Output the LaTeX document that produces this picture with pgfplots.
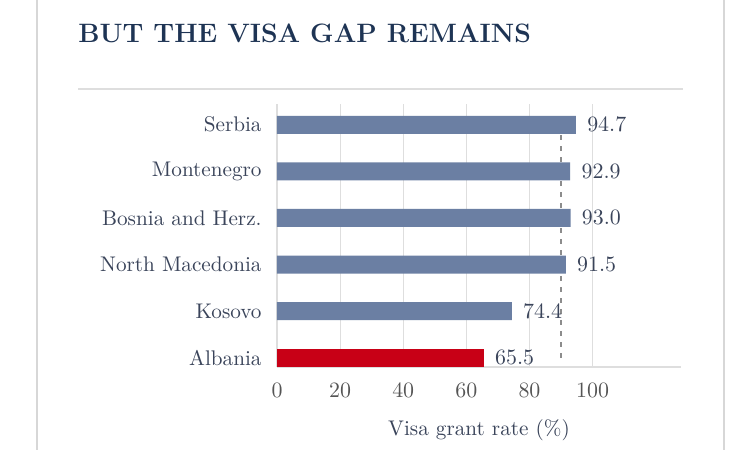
\documentclass[border=0pt]{standalone}
\usepackage{pgfplots}
\pgfplotsset{compat=1.18}
\definecolor{barblue}{RGB}{107,127,163}
\definecolor{barred}{RGB}{200,0,22}
\definecolor{titlecol}{RGB}{30,52,84}
\definecolor{labcol}{RGB}{58,68,90}
\definecolor{tickcol}{RGB}{85,85,85}
\definecolor{gridcol}{RGB}{222,222,222}
\definecolor{framecol}{RGB}{215,215,215}
\begin{document}
\begin{tikzpicture}
\path[use as bounding box] (0,0) rectangle (376pt,225pt);
% slide edges
\draw[framecol, line width=0.8pt] (18.5pt,0) -- (18.5pt,225pt);
\draw[framecol, line width=0.8pt] (362pt,0) -- (362pt,225pt);
% title and rule
\node[anchor=base west, inner sep=0pt, text=titlecol, font=\fontsize{13.3}{15}\selectfont\bfseries] at (39pt,203.5pt) {BUT THE VISA GAP REMAINS};
\draw[gridcol, line width=0.8pt] (39pt,180.5pt) -- (341.5pt,180.5pt);
\begin{axis}[
  at={(138.5pt,41.5pt)}, anchor=south west,
  scale only axis, width=202pt, height=131.6pt,
  xmin=0, xmax=128, ymin=-0.2, ymax=5.45,
  axis x line=bottom, axis y line=left,
  axis line style={draw=gridcol, line width=0.8pt, -},
  xtick={0,20,40,60,80,100},
  ytick={0,1,2,3,4,5},
  yticklabels={Albania, Kosovo, North Macedonia, Bosnia and Herz., Montenegro, Serbia},
  major tick length=0pt,
  xmajorgrids, grid style={gridcol, line width=0.6pt},
  tick label style={font=\fontsize{10.6}{12}\selectfont},
  xticklabel style={text=tickcol, anchor=north, inner sep=0pt, yshift=-8pt},
  yticklabel style={text=labcol, anchor=east, inner sep=0pt, xshift=-7.5pt},
  xlabel={Visa grant rate (\%)},
  xlabel style={at={(axis description cs:0.5,0)}, anchor=base, inner sep=0pt, yshift=-34.5pt, text=labcol, font=\fontsize{10.6}{12}\selectfont},
  barval/.style={xbar, bar width=9pt, bar shift=0pt, draw=none,
    nodes near coords,
    nodes near coords style={anchor=west, inner sep=0pt, xshift=5.5pt, text=labcol, font=\fontsize{10.8}{12}\selectfont, /pgf/number format/.cd, fixed, fixed zerofill, precision=1}},
  dashref/.style={sharp plot, mark=none, draw=black!45, line width=0.6pt, dash pattern=on 2.5pt off 3pt},
  clip=false,
]
\addplot[dashref] coordinates {(90,0) (90,1.8)};
\addplot[dashref] coordinates {(90,2.21) (90,2.79)};
\addplot[dashref] coordinates {(90,3.21) (90,3.79)};
\addplot[dashref] coordinates {(90,4.21) (90,4.79)};
\addplot[barval, fill=barblue] coordinates {(74.4,1) (91.5,2) (93.0,3) (92.9,4) (94.7,5)};
\addplot[barval, fill=barred] coordinates {(65.5,0)};
\end{axis}
\end{tikzpicture}
\end{document}
